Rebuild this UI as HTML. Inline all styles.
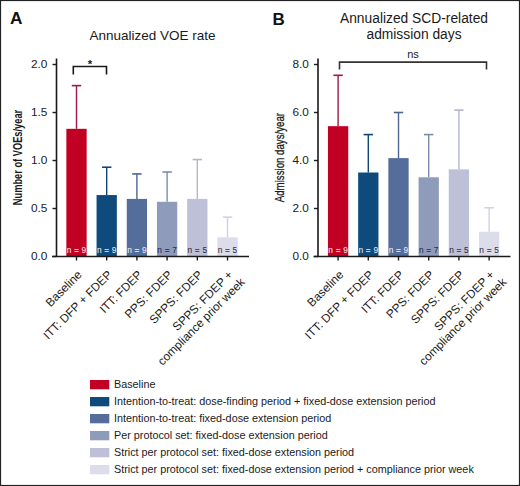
<!DOCTYPE html><html><head><meta charset="utf-8"><style>html,body{margin:0;padding:0;background:#fff;width:520px;height:486px;overflow:hidden}</style></head><body><svg width="520" height="486" viewBox="0 0 520 486" style="position:absolute;left:0;top:0;font-family:'Liberation Sans', sans-serif">
<rect x="0" y="0" width="520" height="486" fill="#fff"/>
<rect x="0.5" y="0.5" width="519" height="485" fill="none" stroke="#222" stroke-width="1.2"/>
<text x="10.1" y="24.4" font-size="17.3" font-weight="bold" fill="#111">A</text>
<text x="272.4" y="24.6" font-size="17" font-weight="bold" fill="#111">B</text>
<text x="152.5" y="40.2" text-anchor="middle" font-size="13.5" fill="#1a1a1a">Annualized VOE rate</text>
<text x="414" y="22.6" text-anchor="middle" font-size="13.8" fill="#1a1a1a">Annualized SCD-related</text>
<text x="414" y="39.3" text-anchor="middle" font-size="13.8" fill="#1a1a1a">admission days</text>
<text transform="translate(22.2,205.2) rotate(-90) scale(0.693,1)" font-size="13.4" fill="#1a1a1a" font-weight="bold">Number of VOEs/year</text>
<text transform="translate(284.1,202.2) rotate(-90) scale(0.733,1)" font-size="13.2" fill="#1a1a1a" stroke="#1a1a1a" stroke-width="0.3">Admission days/year</text>
<line x1="56.5" y1="58.5" x2="56.5" y2="257" stroke="#1a1a1a" stroke-width="1.6"/>
<line x1="52.5" y1="256.5" x2="56.5" y2="256.5" stroke="#1a1a1a" stroke-width="1.4"/>
<text x="47.3" y="259.9" text-anchor="end" font-size="11.8" fill="#1a1a1a">0.0</text>
<line x1="52.5" y1="208.5" x2="56.5" y2="208.5" stroke="#1a1a1a" stroke-width="1.4"/>
<text x="47.3" y="211.9" text-anchor="end" font-size="11.8" fill="#1a1a1a">0.5</text>
<line x1="52.5" y1="160.5" x2="56.5" y2="160.5" stroke="#1a1a1a" stroke-width="1.4"/>
<text x="47.3" y="163.9" text-anchor="end" font-size="11.8" fill="#1a1a1a">1.0</text>
<line x1="52.5" y1="112.5" x2="56.5" y2="112.5" stroke="#1a1a1a" stroke-width="1.4"/>
<text x="47.3" y="115.9" text-anchor="end" font-size="11.8" fill="#1a1a1a">1.5</text>
<line x1="52.5" y1="64.5" x2="56.5" y2="64.5" stroke="#1a1a1a" stroke-width="1.4"/>
<text x="47.3" y="67.9" text-anchor="end" font-size="11.8" fill="#1a1a1a">2.0</text>
<line x1="76.5" y1="85.62" x2="76.5" y2="128.82" stroke="#a01842" stroke-width="1.4"/>
<line x1="71.8" y1="85.62" x2="81.2" y2="85.62" stroke="#a01842" stroke-width="1.6"/>
<rect x="66.35" y="128.82" width="20.3" height="127.68" fill="#c20024"/>
<text x="76.5" y="253" text-anchor="middle" font-size="8.3" fill="rgba(255,255,255,0.85)" stroke="rgba(255,255,255,0.85)" stroke-width="0.12" word-spacing="0.4">n = 9</text>
<line x1="76.5" y1="256.5" x2="76.5" y2="260.5" stroke="#1a1a1a" stroke-width="1.4"/>
<line x1="106.7" y1="167.22" x2="106.7" y2="195.06" stroke="#0f4676" stroke-width="1.4"/>
<line x1="102.0" y1="167.22" x2="111.4" y2="167.22" stroke="#0f4676" stroke-width="1.6"/>
<rect x="96.55" y="195.06" width="20.3" height="61.44" fill="#0f4a7c"/>
<text x="106.7" y="253" text-anchor="middle" font-size="8.3" fill="rgba(255,255,255,0.85)" stroke="rgba(255,255,255,0.85)" stroke-width="0.12" word-spacing="0.4">n = 9</text>
<line x1="106.7" y1="256.5" x2="106.7" y2="260.5" stroke="#1a1a1a" stroke-width="1.4"/>
<line x1="136.9" y1="173.94" x2="136.9" y2="198.9" stroke="#4c6590" stroke-width="1.4"/>
<line x1="132.20000000000002" y1="173.94" x2="141.6" y2="173.94" stroke="#4c6590" stroke-width="1.6"/>
<rect x="126.75" y="198.9" width="20.3" height="57.599999999999994" fill="#546d9a"/>
<text x="136.9" y="253" text-anchor="middle" font-size="8.3" fill="rgba(255,255,255,0.85)" stroke="rgba(255,255,255,0.85)" stroke-width="0.12" word-spacing="0.4">n = 9</text>
<line x1="136.9" y1="256.5" x2="136.9" y2="260.5" stroke="#1a1a1a" stroke-width="1.4"/>
<line x1="167.1" y1="172.01999999999998" x2="167.1" y2="201.78" stroke="#7d8bab" stroke-width="1.4"/>
<line x1="162.4" y1="172.01999999999998" x2="171.79999999999998" y2="172.01999999999998" stroke="#7d8bab" stroke-width="1.6"/>
<rect x="156.95" y="201.78" width="20.3" height="54.72" fill="#8e9bba"/>
<text x="167.1" y="253" text-anchor="middle" font-size="8.3" fill="rgba(30,32,55,0.9)" stroke="rgba(30,32,55,0.9)" stroke-width="0.12" word-spacing="0.4">n = 7</text>
<line x1="167.1" y1="256.5" x2="167.1" y2="260.5" stroke="#1a1a1a" stroke-width="1.4"/>
<line x1="197.3" y1="159.54" x2="197.3" y2="198.9" stroke="#b3b6cd" stroke-width="1.4"/>
<line x1="192.60000000000002" y1="159.54" x2="202.0" y2="159.54" stroke="#b3b6cd" stroke-width="1.6"/>
<rect x="187.15" y="198.9" width="20.3" height="57.599999999999994" fill="#bdc0d6"/>
<text x="197.3" y="253" text-anchor="middle" font-size="8.3" fill="rgba(30,32,55,0.9)" stroke="rgba(30,32,55,0.9)" stroke-width="0.12" word-spacing="0.4">n = 5</text>
<line x1="197.3" y1="256.5" x2="197.3" y2="260.5" stroke="#1a1a1a" stroke-width="1.4"/>
<line x1="227.5" y1="217.14" x2="227.5" y2="237.3" stroke="#d2d2e3" stroke-width="1.4"/>
<line x1="222.8" y1="217.14" x2="232.2" y2="217.14" stroke="#d2d2e3" stroke-width="1.6"/>
<rect x="217.35" y="237.3" width="20.3" height="19.19999999999999" fill="#dcdcea"/>
<text x="227.5" y="253" text-anchor="middle" font-size="8.3" fill="rgba(30,32,55,0.9)" stroke="rgba(30,32,55,0.9)" stroke-width="0.12" word-spacing="0.4">n = 5</text>
<line x1="227.5" y1="256.5" x2="227.5" y2="260.5" stroke="#1a1a1a" stroke-width="1.4"/>
<line x1="52.0" y1="256.5" x2="249.0" y2="256.5" stroke="#1a1a1a" stroke-width="1.6"/>
<text transform="translate(82.50,275.40) rotate(-45)" text-anchor="end" font-size="11.8" fill="#1a1a1a">Baseline</text>
<text transform="translate(112.70,275.40) rotate(-45)" text-anchor="end" font-size="11.8" fill="#1a1a1a">ITT: DFP + FDEP</text>
<text transform="translate(142.90,275.40) rotate(-45)" text-anchor="end" font-size="11.8" fill="#1a1a1a">ITT: FDEP</text>
<text transform="translate(173.10,275.40) rotate(-45)" text-anchor="end" font-size="11.8" fill="#1a1a1a">PPS: FDEP</text>
<text transform="translate(203.30,275.40) rotate(-45)" text-anchor="end" font-size="11.8" fill="#1a1a1a">SPPS: FDEP</text>
<text transform="translate(233.50,275.40) rotate(-45)" text-anchor="end" font-size="11.8" fill="#1a1a1a">SPPS: FDEP +</text>
<text transform="translate(245.52,282.90) rotate(-45)" text-anchor="end" font-size="11.8" fill="#1a1a1a">compliance prior week</text>
<line x1="318" y1="58.5" x2="318" y2="257" stroke="#1a1a1a" stroke-width="1.6"/>
<line x1="314" y1="256.5" x2="318" y2="256.5" stroke="#1a1a1a" stroke-width="1.4"/>
<text x="308.8" y="259.9" text-anchor="end" font-size="11.8" fill="#1a1a1a">0.0</text>
<line x1="314" y1="208.5" x2="318" y2="208.5" stroke="#1a1a1a" stroke-width="1.4"/>
<text x="308.8" y="211.9" text-anchor="end" font-size="11.8" fill="#1a1a1a">2.0</text>
<line x1="314" y1="160.5" x2="318" y2="160.5" stroke="#1a1a1a" stroke-width="1.4"/>
<text x="308.8" y="163.9" text-anchor="end" font-size="11.8" fill="#1a1a1a">4.0</text>
<line x1="314" y1="112.5" x2="318" y2="112.5" stroke="#1a1a1a" stroke-width="1.4"/>
<text x="308.8" y="115.9" text-anchor="end" font-size="11.8" fill="#1a1a1a">6.0</text>
<line x1="314" y1="64.5" x2="318" y2="64.5" stroke="#1a1a1a" stroke-width="1.4"/>
<text x="308.8" y="67.9" text-anchor="end" font-size="11.8" fill="#1a1a1a">8.0</text>
<line x1="338.1" y1="75.30000000000001" x2="338.1" y2="126.18" stroke="#a01842" stroke-width="1.4"/>
<line x1="333.40000000000003" y1="75.30000000000001" x2="342.8" y2="75.30000000000001" stroke="#a01842" stroke-width="1.6"/>
<rect x="327.95000000000005" y="126.18" width="20.3" height="130.32" fill="#c20024"/>
<text x="338.1" y="253" text-anchor="middle" font-size="8.3" fill="rgba(255,255,255,0.85)" stroke="rgba(255,255,255,0.85)" stroke-width="0.12" word-spacing="0.4">n = 9</text>
<line x1="338.1" y1="256.5" x2="338.1" y2="260.5" stroke="#1a1a1a" stroke-width="1.4"/>
<line x1="368.3" y1="134.57999999999998" x2="368.3" y2="172.5" stroke="#0f4676" stroke-width="1.4"/>
<line x1="363.6" y1="134.57999999999998" x2="373.0" y2="134.57999999999998" stroke="#0f4676" stroke-width="1.6"/>
<rect x="358.15000000000003" y="172.5" width="20.3" height="84.0" fill="#0f4a7c"/>
<text x="368.3" y="253" text-anchor="middle" font-size="8.3" fill="rgba(255,255,255,0.85)" stroke="rgba(255,255,255,0.85)" stroke-width="0.12" word-spacing="0.4">n = 9</text>
<line x1="368.3" y1="256.5" x2="368.3" y2="260.5" stroke="#1a1a1a" stroke-width="1.4"/>
<line x1="398.5" y1="112.5" x2="398.5" y2="158.10000000000002" stroke="#4c6590" stroke-width="1.4"/>
<line x1="393.8" y1="112.5" x2="403.2" y2="112.5" stroke="#4c6590" stroke-width="1.6"/>
<rect x="388.35" y="158.10000000000002" width="20.3" height="98.39999999999998" fill="#546d9a"/>
<text x="398.5" y="253" text-anchor="middle" font-size="8.3" fill="rgba(255,255,255,0.85)" stroke="rgba(255,255,255,0.85)" stroke-width="0.12" word-spacing="0.4">n = 9</text>
<line x1="398.5" y1="256.5" x2="398.5" y2="260.5" stroke="#1a1a1a" stroke-width="1.4"/>
<line x1="428.70000000000005" y1="134.57999999999998" x2="428.70000000000005" y2="177.3" stroke="#7d8bab" stroke-width="1.4"/>
<line x1="424.00000000000006" y1="134.57999999999998" x2="433.40000000000003" y2="134.57999999999998" stroke="#7d8bab" stroke-width="1.6"/>
<rect x="418.55000000000007" y="177.3" width="20.3" height="79.19999999999999" fill="#8e9bba"/>
<text x="428.70000000000005" y="253" text-anchor="middle" font-size="8.3" fill="rgba(30,32,55,0.9)" stroke="rgba(30,32,55,0.9)" stroke-width="0.12" word-spacing="0.4">n = 7</text>
<line x1="428.70000000000005" y1="256.5" x2="428.70000000000005" y2="260.5" stroke="#1a1a1a" stroke-width="1.4"/>
<line x1="458.90000000000003" y1="110.10000000000002" x2="458.90000000000003" y2="169.38" stroke="#b3b6cd" stroke-width="1.4"/>
<line x1="454.20000000000005" y1="110.10000000000002" x2="463.6" y2="110.10000000000002" stroke="#b3b6cd" stroke-width="1.6"/>
<rect x="448.75000000000006" y="169.38" width="20.3" height="87.12" fill="#bdc0d6"/>
<text x="458.90000000000003" y="253" text-anchor="middle" font-size="8.3" fill="rgba(30,32,55,0.9)" stroke="rgba(30,32,55,0.9)" stroke-width="0.12" word-spacing="0.4">n = 5</text>
<line x1="458.90000000000003" y1="256.5" x2="458.90000000000003" y2="260.5" stroke="#1a1a1a" stroke-width="1.4"/>
<line x1="489.1" y1="207.78" x2="489.1" y2="231.78" stroke="#d2d2e3" stroke-width="1.4"/>
<line x1="484.40000000000003" y1="207.78" x2="493.8" y2="207.78" stroke="#d2d2e3" stroke-width="1.6"/>
<rect x="478.95000000000005" y="231.78" width="20.3" height="24.72" fill="#dcdcea"/>
<text x="489.1" y="253" text-anchor="middle" font-size="8.3" fill="rgba(30,32,55,0.9)" stroke="rgba(30,32,55,0.9)" stroke-width="0.12" word-spacing="0.4">n = 5</text>
<line x1="489.1" y1="256.5" x2="489.1" y2="260.5" stroke="#1a1a1a" stroke-width="1.4"/>
<line x1="313.5" y1="256.5" x2="510.5" y2="256.5" stroke="#1a1a1a" stroke-width="1.6"/>
<text transform="translate(344.10,275.40) rotate(-45)" text-anchor="end" font-size="11.8" fill="#1a1a1a">Baseline</text>
<text transform="translate(374.30,275.40) rotate(-45)" text-anchor="end" font-size="11.8" fill="#1a1a1a">ITT: DFP + FDEP</text>
<text transform="translate(404.50,275.40) rotate(-45)" text-anchor="end" font-size="11.8" fill="#1a1a1a">ITT: FDEP</text>
<text transform="translate(434.70,275.40) rotate(-45)" text-anchor="end" font-size="11.8" fill="#1a1a1a">PPS: FDEP</text>
<text transform="translate(464.90,275.40) rotate(-45)" text-anchor="end" font-size="11.8" fill="#1a1a1a">SPPS: FDEP</text>
<text transform="translate(495.10,275.40) rotate(-45)" text-anchor="end" font-size="11.8" fill="#1a1a1a">SPPS: FDEP +</text>
<text transform="translate(507.12,282.90) rotate(-45)" text-anchor="end" font-size="11.8" fill="#1a1a1a">compliance prior week</text>
<path d="M73.3 74.5 V66.5 H106.5 V74.5" fill="none" stroke="#1a1a1a" stroke-width="1.6"/>
<text x="90.1" y="68.2" text-anchor="middle" font-size="11.5" font-weight="bold" fill="#1a1a1a">*</text>
<path d="M339.5 69.5 V62.1 H486.5 V69.5" fill="none" stroke="#333" stroke-width="1.6"/>
<text x="413" y="57.9" text-anchor="middle" font-size="11" fill="#1a1a1a">ns</text>
<rect x="90" y="380" width="19.3" height="9.3" fill="#c20024"/>
<text x="114" y="388" font-size="10.8" fill="#1a1a1a">Baseline</text>
<rect x="90" y="397" width="19.3" height="9.3" fill="#0f4a7c"/>
<text x="114" y="405" font-size="10.8" fill="#1a1a1a">Intention-to-treat: dose-finding period + fixed-dose extension period</text>
<rect x="90" y="414" width="19.3" height="9.3" fill="#546d9a"/>
<text x="114" y="422" font-size="10.8" fill="#1a1a1a">Intention-to-treat: fixed-dose extension period</text>
<rect x="90" y="431" width="19.3" height="9.3" fill="#8e9bba"/>
<text x="114" y="439" font-size="10.8" fill="#1a1a1a">Per protocol set: fixed-dose extension period</text>
<rect x="90" y="448" width="19.3" height="9.3" fill="#bdc0d6"/>
<text x="114" y="456" font-size="10.8" fill="#1a1a1a">Strict per protocol set: fixed-dose extension period</text>
<rect x="90" y="465" width="19.3" height="9.3" fill="#dcdcea"/>
<text x="114" y="473" font-size="10.8" fill="#1a1a1a">Strict per protocol set: fixed-dose extension period + compliance prior week</text>
</svg></body></html>
